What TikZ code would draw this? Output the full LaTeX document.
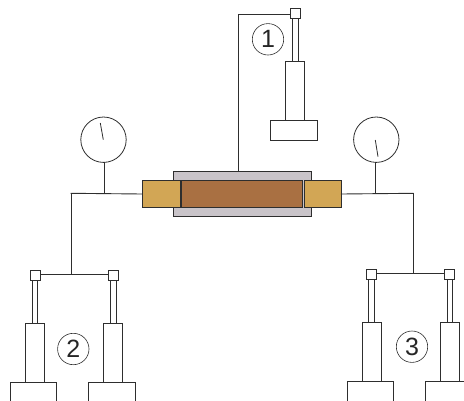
\documentclass[tikz,border=0pt]{standalone}
\usepackage{fontspec}
\setmainfont{Liberation Sans}
\definecolor{ink}{HTML}{2E2E2E}
\definecolor{shell}{HTML}{C9C4C9}
\definecolor{core}{HTML}{A97042}
\definecolor{capc}{HTML}{D2A655}
\tikzset{
  partbox/.style={draw=ink,line width=0.9pt,fill=white,rectangle,inner sep=0pt,outer sep=0pt},
  pipe/.style={draw=ink,line width=0.9pt},
  gauge/.style={draw=ink,line width=0.8pt,fill=white,circle,inner sep=0pt,outer sep=0pt,minimum size=45.4pt},
  tag/.style={draw=ink,line width=0.6pt,circle,inner sep=0pt,outer sep=0pt,minimum size=31.4pt,font=\fontsize{25}{25}\selectfont,text=black!85},
  needle/.style={draw=ink,line width=0.8pt}
}
\newcommand{\pbox}[6][]{%
  \node[partbox,#1,minimum width={(#5)-(#3)},minimum height={(#6)-(#4)}] (#2) at ({((#3)+(#5))/2},{((#4)+(#6))/2}) {};}
\newcommand{\jack}[9]{%
  \pbox{#1base}{#2}{#9+59}{#3}{#9+79}
  \pbox{#1cyl}{#4}{#9}{#5}{#9+59}
  \pbox{#1rod}{#6}{#9-43.5}{#7}{#9}
  \pbox{#1head}{#8}{#9-53}{#8+10}{#9-43}}
\begin{document}
\begin{tikzpicture}[x=1pt,y=-1pt]
\useasboundingbox (0,0) rectangle (464,400);
\clip (0,0) rectangle (464,400);
% sample holder
\pbox[fill=shell]{shellbox}{173.3}{171.7}{311.7}{216.7}
\pbox[fill=core]{corebox}{181}{180.7}{302.7}{207.3}
\pbox[fill=capc]{capL}{142.3}{180.7}{180}{207.3}
\pbox[fill=capc]{capR}{304}{180.7}{341.3}{207.3}
% jacks
\jack{a}{270.3}{317.3}{285.7}{304.7}{292.7}{298}{290.3}{61.7}
\jack{b}{10.3}{56.7}{25.3}{44.3}{32}{37.7}{30}{323.3}
\jack{c}{88.7}{135}{103.7}{122.7}{110.3}{116.3}{108.3}{323.3}
\jack{d}{347}{393.3}{362}{381}{368.7}{374.3}{366.3}{322}
\jack{e}{425.3}{472}{440.3}{459.3}{447}{452.7}{444.7}{322}
% gauges
\node[gauge] (gaugeL) at (103.5,139.7) {};
\node[gauge] (gaugeR) at (376.3,139.7) {};
\coordinate (nLa) at (100.3,123);
\coordinate (nLb) at (103.3,139.7);
\coordinate (nRa) at (375.3,140);
\coordinate (nRb) at (378,156.7);
\draw[needle] (nLa) -- (nLb);
\draw[needle] (nRa) -- (nRb);
% pipes
\coordinate (jL) at (71,193.3);
\coordinate (jR) at (413.3,193.3);
\coordinate (jGL) at (104,193.3);
\coordinate (jGR) at (375.3,193.3);
\coordinate (jB) at (71,274.3);
\coordinate (jD) at (413.3,273);
\coordinate (top) at (238.7,14);
\draw[pipe,line cap=rect] (jL) -- (capL.west);
\draw[pipe,line cap=rect] (jR) -- (capR.east);
\draw[pipe] (jGL) -- (jGL |- gaugeL.south);
\draw[pipe] (jGR) -- (jGR |- gaugeR.south);
\draw[pipe,line cap=rect] (jL) -- (jB);
\draw[pipe,line cap=rect] (jR) -- (jD);
\draw[pipe] (bhead.east |- jB) -- (chead.west |- jB);
\draw[pipe] (dhead.east |- jD) -- (ehead.west |- jD);
\draw[pipe] (ahead.west |- top) -- (top) -- (top |- shellbox.north);
% labels
\node[tag] (tag1) at (268,39.3) {1};
\node[tag] (tag2) at (73.3,349) {2};
\node[tag] (tag3) at (412,346.7) {3};
\end{tikzpicture}
\end{document}
